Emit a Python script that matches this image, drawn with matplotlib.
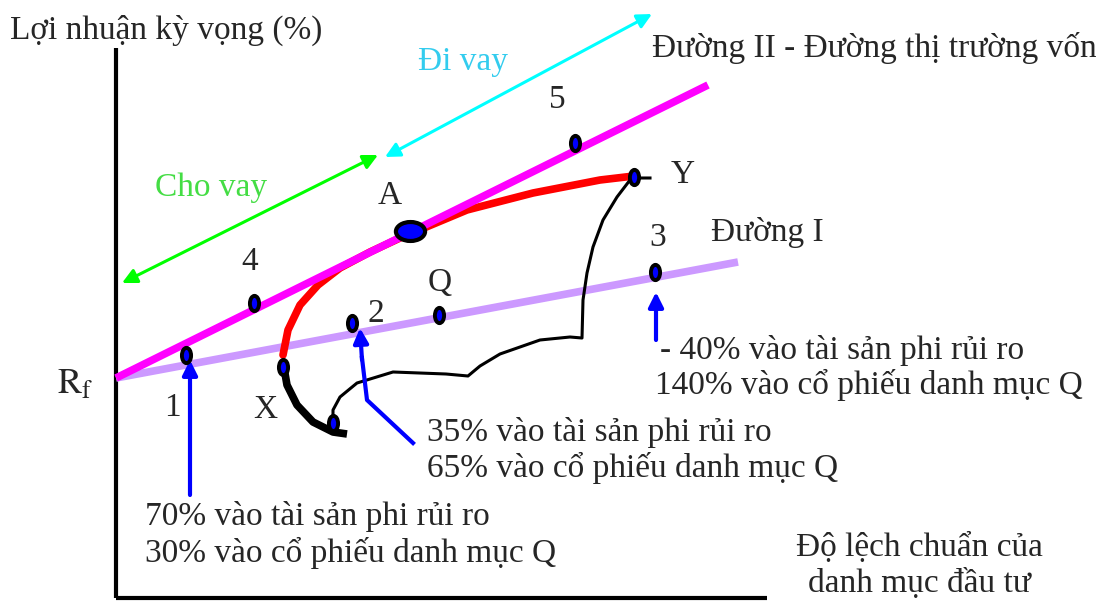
import matplotlib.pyplot as plt
from matplotlib.path import Path
from matplotlib.transforms import Affine2D

plt.rcParams['font.family'] = ['Liberation Serif', 'DejaVu Serif']
plt.rcParams['mathtext.fontset'] = 'stix'

# Độ lệch chuẩn (trục x) và lợi nhuận kỳ vọng (trục y), đơn vị tùy ý
rf = 220
duong_I = ([0, 622], [rf, 336])
duong_II = ([0, 592], [rf, 513])

bien_x = [167, 172, 184, 202, 224, 254, 284, 351, 417, 484, 518]
bien_y = [243, 268, 293, 313, 330, 346, 360, 388, 405, 418, 422]

duoi_x = [167, 171, 181, 197, 217, 231]
duoi_y = [236, 213, 193, 176, 166, 164]

vung_x = [217, 217, 224, 241, 277, 330, 352, 364, 384, 424, 454, 466,
          467, 471, 477, 487, 501, 514, 518, 534]
vung_y = [173, 188, 201, 215, 226, 224, 222, 232, 244, 258, 261, 260,
          298, 325, 351, 378, 401, 418, 420, 420]

diem_x = [70, 138, 236, 323, 459, 539, 167, 217, 518]
diem_y = [243, 295, 275, 283, 455, 326, 231, 175, 421]
diem_A = (294, 367)

fig = plt.figure(figsize=(10.96, 6.02), dpi=100)
ax = fig.add_axes([0, 0, 1, 1])
ax.set_xlim(-116, 980)
ax.set_ylim(-4, 598)
ax.axis('off')

# trục
ax.plot([0, 0], [0, 550], color='black', lw=3, solid_capstyle='butt')
ax.plot([0, 651], [0, 0], color='black', lw=3, solid_capstyle='butt')

ax.plot(*duong_I, color='#cc99ff', lw=5.5, solid_capstyle='butt', zorder=2)
ax.plot(*duong_II, color='#ff00ff', lw=5.5, solid_capstyle='butt', zorder=3)
ax.plot(bien_x, bien_y, color='red', lw=5.5, solid_capstyle='round', zorder=2)
ax.plot(duoi_x, duoi_y, color='black', lw=5.5, solid_capstyle='butt', zorder=2)
ax.plot(vung_x, vung_y, color='black', lw=2.2, zorder=2)

doc = Path.unit_circle().transformed(Affine2D().scale(0.6, 1.0))
ax.plot(diem_x, diem_y, ls='none', marker=doc, ms=11, mfc='blue',
        mec='black', mew=2.8, zorder=5)
ngang = Path.unit_circle().transformed(Affine2D().scale(1.0, 0.65))
ax.plot(*diem_A, ls='none', marker=ngang, ms=21, mfc='blue', mec='black',
        mew=3, zorder=5)

# mũi tên cho vay / đi vay
ax.annotate('', xy=(6, 315), xytext=(262, 443),
            arrowprops=dict(arrowstyle='<|-|>', color='#00ff00', lw=2.2,
                            mutation_scale=22, shrinkA=0, shrinkB=0))
ax.annotate('', xy=(269, 441), xytext=(536, 584),
            arrowprops=dict(arrowstyle='<|-|>', color='#00ffff', lw=2.2,
                            mutation_scale=22, shrinkA=0, shrinkB=0))

# mũi tên chỉ danh mục
mui = dict(arrowstyle='-|>', color='blue', lw=3, mutation_scale=22,
           shrinkA=0, shrinkB=0)
ax.annotate('', xy=(74, 238), xytext=(74, 103), arrowprops=mui)
ax.plot([297, 251, 246], [155, 198, 240], color='blue', lw=3)
ax.annotate('', xy=(244, 270), xytext=(246, 238), arrowprops=mui)
ax.annotate('', xy=(540, 306), xytext=(540, 258), arrowprops=mui)

mau = '#262626'
chu = dict(fontsize=24, color=mau, va='center')
ax.text(-106, 568, 'Lợi nhuận kỳ vọng (%)', ha='left', **chu)
ax.text(536, 550, 'Đường II - Đường thị trường vốn', ha='left', **chu)
ax.text(441, 498, '5', ha='center', **chu)
ax.text(567, 423, 'Y', ha='center', **chu)
ax.text(274, 402, 'A', ha='center', **chu)
ax.text(595, 366, 'Đường I', ha='left', **chu)
ax.text(542, 360, '3', ha='center', **chu)
ax.text(134, 336, '4', ha='center', **chu)
ax.text(324, 315, 'Q', ha='center', **chu)
ax.text(260, 284, '2', ha='center', **chu)
ax.text(-41, 213, r'$\mathrm{R_f}$', ha='center', fontsize=26,
        color=mau, va='center')
ax.text(56, 190, '1', ha='center', **chu)
ax.text(149, 188, 'X', ha='center', **chu)
ax.text(302, 536, 'Đi vay', ha='left', fontsize=24, color='#33ccee',
        va='center')
ax.text(39, 410, 'Cho vay', ha='left', fontsize=24, color='#44dd44',
        va='center')

ax.text(544, 248, '- 40% vào tài sản phi rủi ro', ha='left', **chu)
ax.text(539, 213, '140% vào cổ phiếu danh mục Q', ha='left', **chu)
ax.text(311, 165, '35% vào tài sản phi rủi ro', ha='left', **chu)
ax.text(311, 130, '65% vào cổ phiếu danh mục Q', ha='left', **chu)
ax.text(29, 81, '70% vào tài sản phi rủi ro', ha='left', **chu)
ax.text(29, 45, '30% vào cổ phiếu danh mục Q', ha='left', **chu)
ax.text(803, 51, 'Độ lệch chuẩn của', ha='center', **chu)
ax.text(803, 15, 'danh mục đầu tư', ha='center', **chu)

fig.savefig('out.png', dpi=100)
